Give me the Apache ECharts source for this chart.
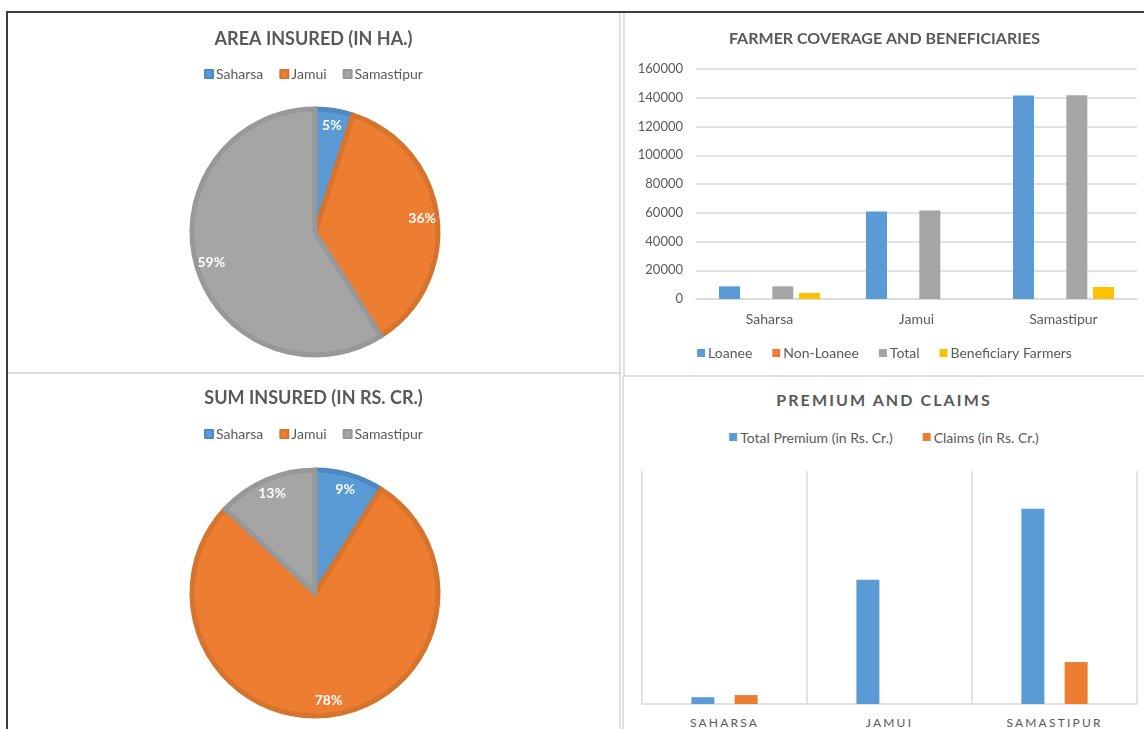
<!DOCTYPE html>
<html>
<head>
<meta charset="utf-8">
<title>Crop Insurance Dashboard</title>
<script src="https://cdn.jsdelivr.net/npm/echarts@6.0.0/dist/echarts.min.js"></script>
<style>
  html, body { margin: 0; padding: 0; background: #fff; width: 1144px; height: 729px; overflow: hidden; }
  .frame { position: absolute; left: 6px; top: 11px; width: 1140px; height: 720px;
           border-top: 2px solid #3c3c3c; border-left: 2px solid #3c3c3c; }
  .panel { position: absolute; box-sizing: border-box; border: 0 solid #dedede; }
  .chart { position: absolute; }
</style>
</head>
<body>
<div class="frame"></div>
<div class="panel" style="left:8px;top:13px;width:613px;height:361px;border-right-width:2px;border-bottom-width:2px;"></div>
<div class="panel" style="left:623px;top:13px;width:521px;height:364px;border-left-width:2px;border-bottom-width:2px;"></div>
<div class="panel" style="left:8px;top:374px;width:613px;height:355px;border-right-width:2px;"></div>
<div class="panel" style="left:622px;top:377px;width:522px;height:352px;border-left-width:2px;"></div>

<div id="areaChart" class="chart" style="left:8px;top:13px;width:611px;height:359px;"></div>
<div id="farmerChart" class="chart" style="left:625px;top:13px;width:519px;height:362px;"></div>
<div id="sumChart" class="chart" style="left:8px;top:374px;width:611px;height:355px;"></div>
<div id="premiumChart" class="chart" style="left:624px;top:377px;width:520px;height:352px;"></div>

<script>
// districts
const districts = ['Saharsa', 'Jamui', 'Samastipur']

// area insured share (%)
const areaInsured = [5, 36, 59]
// sum insured share (%)
const sumInsured = [9, 78, 13]

// farmer coverage
const loanee = [8800, 60900, 141600]
const nonLoanee = [0, 0, 0]
const totalFarmers = [8800, 61600, 141700]
const beneficiaryFarmers = [4200, 0, 8350]
const farmerTicks = { min: 0, max: 160000, interval: 20000 }

// premium and claims (Rs. Cr.)
const totalPremium = [0.35, 6.4, 10.05]
const claims = [0.46, 0, 2.16]

const FONT = 'Lato, "Open Sans", sans-serif'
const TEXT = '#595959'
const BLUE = '#5B9BD5'
const ORANGE = '#ED7D31'
const GRAY = '#A5A5A5'
const YELLOW = '#FFC000'
const LINE = '#d9d9d9'

function pieOption(title, values, titleTop, legendTop) {
  const colors = [BLUE, ORANGE, GRAY]
  const borders = ['#4f88c0', '#d6732d', '#989898']
  const data = districts.map((name, i) => ({
    name: name,
    value: values[i],
    itemStyle: { color: colors[i], borderColor: borders[i] }
  }))
  return {
    backgroundColor: 'transparent',
    animation: false,
    title: {
      text: title,
      left: 'center',
      top: titleTop,
      padding: 0,
      textStyle: { fontFamily: FONT, fontSize: 18, fontWeight: 'bold', color: TEXT }
    },
    legend: {
      top: legendTop,
      left: 'center',
      padding: 0,
      icon: 'rect',
      itemWidth: 8,
      itemHeight: 8,
      itemGap: 16,
      data: districts,
      textStyle: { fontFamily: FONT, fontSize: 14, color: TEXT, padding: [0, 0, 0, -2] }
    },
    series: [
      {
        type: 'pie',
        center: [307, 219],
        radius: [0, 123],
        startAngle: 90,
        silent: true,
        itemStyle: { borderWidth: 5 },
        label: { show: false },
        labelLine: { show: false },
        data: data
      },
      {
        // label ring, sits at the outer part of the pie like Excel's best fit
        type: 'pie',
        center: [307, 219],
        radius: [84, 126],
        startAngle: 90,
        silent: true,
        itemStyle: { color: 'transparent', borderWidth: 0 },
        label: {
          show: true,
          position: 'inside',
          formatter: p => Math.round(p.percent) + '%',
          fontFamily: FONT,
          fontSize: 14,
          fontWeight: 'bold',
          color: '#fff'
        },
        labelLine: { show: false },
        data: districts.map((name, i) => ({ name: name, value: values[i] }))
      }
    ]
  }
}

const areaChart = echarts.init(document.getElementById('areaChart'))
areaChart.setOption(pieOption('AREA INSURED (IN HA.)', areaInsured, 17, 54))

const sumChart = echarts.init(document.getElementById('sumChart'))
sumChart.setOption(pieOption('SUM INSURED (IN RS. CR.)', sumInsured, 15, 53))

const farmerChart = echarts.init(document.getElementById('farmerChart'))
farmerChart.setOption({
  backgroundColor: 'transparent',
  animation: false,
  title: {
    text: 'FARMER COVERAGE AND BENEFICIARIES',
    left: 'center',
    top: 18,
    padding: 0,
    textStyle: { fontFamily: FONT, fontSize: 16, fontWeight: 'bold', color: TEXT }
  },
  legend: {
    top: 333,
    left: 'center',
    padding: 0,
    icon: 'rect',
    itemWidth: 8,
    itemHeight: 8,
    itemGap: 20,
    data: ['Loanee', 'Non-Loanee', 'Total', 'Beneficiary Farmers'],
    textStyle: { fontFamily: FONT, fontSize: 14, color: TEXT, padding: [0, 0, 0, -2] }
  },
  grid: { left: 71, right: 7, top: 56, bottom: 76 },
  xAxis: {
    type: 'category',
    data: districts,
    axisLine: { lineStyle: { color: LINE, width: 1.5 } },
    axisTick: { show: false },
    axisLabel: { margin: 13, fontFamily: FONT, fontSize: 14, color: TEXT },
    splitLine: { show: false }
  },
  yAxis: {
    type: 'value',
    min: farmerTicks.min,
    max: farmerTicks.max,
    interval: farmerTicks.interval,
    axisLine: { show: false },
    axisTick: { show: false },
    axisLabel: { margin: 13, fontFamily: FONT, fontSize: 13, color: TEXT, formatter: v => String(v) },
    splitLine: { lineStyle: { color: LINE, width: 1.5 } }
  },
  series: [
    { name: 'Loanee', type: 'bar', barWidth: 21, barGap: '27%', itemStyle: { color: BLUE }, data: loanee },
    { name: 'Non-Loanee', type: 'bar', barWidth: 21, barGap: '27%', itemStyle: { color: ORANGE }, data: nonLoanee },
    { name: 'Total', type: 'bar', barWidth: 21, barGap: '27%', itemStyle: { color: GRAY }, data: totalFarmers },
    { name: 'Beneficiary Farmers', type: 'bar', barWidth: 21, barGap: '27%', itemStyle: { color: YELLOW }, data: beneficiaryFarmers }
  ]
})

// svg renderer here so the spaced-out capitals can get letter-spacing like the original
const premiumChart = echarts.init(document.getElementById('premiumChart'), null, { renderer: 'svg' })
premiumChart.setOption({
  backgroundColor: 'transparent',
  animation: false,
  title: {
    text: 'PREMIUM AND CLAIMS',
    left: 'center',
    top: 14,
    padding: 0,
    textStyle: { fontFamily: FONT, fontSize: 16, fontWeight: 'bold', color: TEXT }
  },
  legend: {
    top: 53,
    left: 'center',
    padding: 0,
    icon: 'rect',
    itemWidth: 8,
    itemHeight: 8,
    itemGap: 30,
    data: ['Total Premium (in Rs. Cr.)', 'Claims (in Rs. Cr.)'],
    textStyle: { fontFamily: FONT, fontSize: 14, color: TEXT, padding: [0, 0, 0, -2] }
  },
  grid: { left: 18, right: 7, top: 94, bottom: 25 },
  xAxis: {
    type: 'category',
    data: districts,
    axisLine: { lineStyle: { color: LINE, width: 1.5 } },
    axisTick: { show: false },
    axisLabel: {
      margin: 12,
      fontFamily: FONT,
      fontSize: 12,
      color: TEXT,
      formatter: v => v.toUpperCase()
    },
    splitLine: { show: true, lineStyle: { color: LINE, width: 1.5 } }
  },
  yAxis: {
    type: 'value',
    min: 0,
    max: 12,
    axisLine: { show: false },
    axisTick: { show: false },
    axisLabel: { show: false },
    splitLine: { show: false }
  },
  series: [
    { name: 'Total Premium (in Rs. Cr.)', type: 'bar', barWidth: 23, barGap: '88%', itemStyle: { color: BLUE }, data: totalPremium },
    { name: 'Claims (in Rs. Cr.)', type: 'bar', barWidth: 23, barGap: '88%', itemStyle: { color: ORANGE }, data: claims }
  ]
})

const upperNames = districts.map(d => d.toUpperCase())
premiumChart.getDom().querySelectorAll('text').forEach(t => {
  const s = t.textContent
  if (s === 'PREMIUM AND CLAIMS') t.style.letterSpacing = '2.1px'
  else if (upperNames.includes(s)) t.style.letterSpacing = '2.2px'
})
</script>
</body>
</html>
